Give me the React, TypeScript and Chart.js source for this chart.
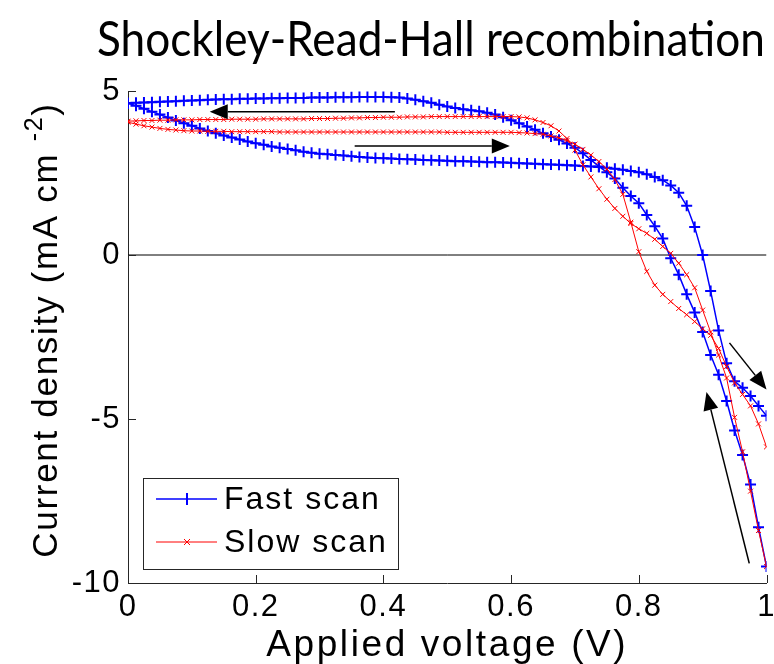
import { useEffect, useRef } from 'react';
import { Chart, registerables } from 'chart.js';
Chart.register(...registerables);

// ---------------- data ----------------
const voltage = [
  0, 0.0125, 0.025, 0.0375, 0.05, 0.0625, 0.075, 0.0875, 0.1, 0.1125, 0.125, 0.1375, 0.15, 0.1625, 0.175, 0.1875,
  0.2, 0.2125, 0.225, 0.2375, 0.25, 0.2625, 0.275, 0.2875, 0.3, 0.3125, 0.325, 0.3375, 0.35, 0.3625, 0.375, 0.3875,
  0.4, 0.4125, 0.425, 0.4375, 0.45, 0.4625, 0.475, 0.4875, 0.5, 0.5125, 0.525, 0.5375, 0.55, 0.5625, 0.575, 0.5875,
  0.6, 0.6125, 0.625, 0.6375, 0.65, 0.6625, 0.675, 0.6875, 0.7, 0.7125, 0.725, 0.7375, 0.75, 0.7625, 0.775, 0.7875,
  0.8, 0.8125, 0.825, 0.8375, 0.85, 0.8625, 0.875, 0.8875, 0.9, 0.9125, 0.925, 0.9375, 0.95, 0.9625, 0.975, 0.9875, 1.0,
];

// Fast scan, forward sweep (lower branch)
const fastForward = [
  4.63, 4.55, 4.46, 4.37, 4.28, 4.19, 4.10, 4.02, 3.94, 3.86, 3.78, 3.71, 3.64, 3.58, 3.52, 3.46,
  3.41, 3.36, 3.31, 3.27, 3.23, 3.19, 3.15, 3.12, 3.09, 3.07, 3.05, 3.03, 3.01, 2.99, 2.97, 2.96,
  2.95, 2.94, 2.93, 2.92, 2.91, 2.90, 2.89, 2.88, 2.87, 2.86, 2.86, 2.85, 2.84, 2.83, 2.83, 2.82,
  2.81, 2.80, 2.79, 2.78, 2.77, 2.76, 2.75, 2.74, 2.73, 2.71, 2.70, 2.68, 2.66, 2.63, 2.60, 2.56,
  2.52, 2.46, 2.38, 2.28, 2.12, 1.90, 1.50, 0.85, 0.0, -1.1, -2.3, -3.3, -3.85, -4.05, -4.3, -4.6, -4.9,
];

// Fast scan, reverse sweep (upper branch)
const fastReverse = [
  4.63, 4.64, 4.65, 4.66, 4.67, 4.68, 4.69, 4.70, 4.71, 4.72, 4.73, 4.74, 4.75, 4.75, 4.76, 4.76,
  4.77, 4.77, 4.78, 4.78, 4.79, 4.79, 4.79, 4.80, 4.80, 4.80, 4.81, 4.81, 4.81, 4.82, 4.82, 4.82,
  4.82, 4.81, 4.80, 4.77, 4.73, 4.69, 4.64, 4.58, 4.53, 4.48, 4.44, 4.41, 4.38, 4.34, 4.28, 4.20,
  4.11, 4.02, 3.92, 3.82, 3.71, 3.61, 3.51, 3.40, 3.27, 3.10, 2.90, 2.70, 2.52, 2.33, 2.05, 1.80,
  1.58, 1.22, 0.88, 0.50, -0.1, -0.6, -1.2, -1.75, -2.35, -3.05, -3.65, -4.45, -5.35, -6.1, -7.0, -8.3, -9.5,
];

// Slow scan, forward sweep (lower branch)
const slowForward = [
  4.05, 3.99, 3.94, 3.90, 3.86, 3.83, 3.81, 3.79, 3.78, 3.78, 3.77, 3.77, 3.77, 3.76, 3.76, 3.76,
  3.76, 3.76, 3.76, 3.75, 3.75, 3.75, 3.75, 3.75, 3.75, 3.75, 3.75, 3.75, 3.75, 3.75, 3.75, 3.75,
  3.75, 3.75, 3.75, 3.75, 3.75, 3.75, 3.75, 3.75, 3.74, 3.74, 3.74, 3.74, 3.74, 3.74, 3.74, 3.74,
  3.74, 3.73, 3.72, 3.70, 3.68, 3.63, 3.57, 3.49, 3.38, 3.22, 3.05, 2.85, 2.62, 2.30, 1.85, 1.00,
  0.10, -0.50, -0.92, -1.20, -1.42, -1.63, -1.82, -2.03, -2.25, -2.45, -2.85, -3.40, -3.90, -4.25, -4.60, -5.15, -5.85,
];

// Slow scan, reverse sweep (upper branch)
const slowReverse = [
  4.08, 4.09, 4.10, 4.10, 4.11, 4.11, 4.12, 4.12, 4.12, 4.13, 4.13, 4.13, 4.13, 4.14, 4.14, 4.14,
  4.14, 4.15, 4.15, 4.15, 4.15, 4.15, 4.15, 4.16, 4.16, 4.16, 4.17, 4.17, 4.18, 4.18, 4.19, 4.19,
  4.20, 4.20, 4.20, 4.21, 4.21, 4.21, 4.22, 4.22, 4.22, 4.22, 4.22, 4.22, 4.22, 4.22, 4.22, 4.22,
  4.22, 4.21, 4.18, 4.12, 4.04, 3.94, 3.78, 3.55, 3.20, 2.75, 2.38, 2.02, 1.70, 1.42, 1.18, 0.96,
  0.80, 0.66, 0.48, 0.26, 0.05, -0.25, -0.60, -1.00, -1.68, -2.35, -3.05, -3.75, -4.95, -6.00, -7.20, -8.40, -9.50,
];

const zeroLineV = [0, 1];
const zeroLineJ = [0, 0];

const xTicks = [0, 0.2, 0.4, 0.6, 0.8, 1];
const yTicks = [-10, -5, 0, 5];

// scan-direction arrows (data coordinates)
const arrowFromV = [0.418, 0.355, 0.942, 0.973];
const arrowFromJ = [4.37, 3.32, -2.68, -9.4];
const arrowToV = [0.128, 0.598, 1.0, 0.906];
const arrowToJ = [4.37, 3.32, -4.1, -4.18];

const legendLabels = ['Fast scan', 'Slow scan'];
const titleText = 'Shockley-Read-Hall recombination';
const xTitleText = 'Applied voltage (V)';
const yTitleMain = 'Current density (mA cm ';
const yTitleSup = '-2';
const yTitleEnd = ')';

// ---------------- styles ----------------
const BLUE = '#0000ff';
const RED = '#ff0000';
const AXIS = '#262626';
const FONT = "'Liberation Sans', Arial, sans-serif";
const TICK_SIZE = 31;
const LABEL_SIZE = 35;
const SPACING = '1.5px';

const pts = (v: number[], j: number[]) => v.map((x, i) => ({ x, y: j[i] }));

const decorPlugin = {
  id: 'decor',
  beforeDraw(chart: any) {
    const ctx = chart.ctx;
    ctx.save();
    ctx.fillStyle = '#fff';
    ctx.fillRect(0, 0, chart.width, chart.height);
    ctx.restore();
    ctx.letterSpacing = SPACING;
  },
  afterDatasetsDraw(chart: any) {
    const { ctx, scales } = chart;
    const x = scales.x;
    const y = scales.y;
    ctx.save();
    ctx.strokeStyle = '#000';
    ctx.fillStyle = '#000';
    ctx.lineWidth = 1.5;
    for (let i = 0; i < arrowFromV.length; i++) {
      const x0 = x.getPixelForValue(arrowFromV[i]);
      const y0 = y.getPixelForValue(arrowFromJ[i]);
      const x1 = x.getPixelForValue(arrowToV[i]);
      const y1 = y.getPixelForValue(arrowToJ[i]);
      const ang = Math.atan2(y1 - y0, x1 - x0);
      const hl = 18;
      const hw = 7.5;
      const bx = x1 - hl * Math.cos(ang);
      const by = y1 - hl * Math.sin(ang);
      ctx.beginPath();
      ctx.moveTo(x0, y0);
      ctx.lineTo(bx, by);
      ctx.stroke();
      ctx.beginPath();
      ctx.moveTo(x1, y1);
      ctx.lineTo(bx + hw * Math.sin(ang), by - hw * Math.cos(ang));
      ctx.lineTo(bx - hw * Math.sin(ang), by + hw * Math.cos(ang));
      ctx.closePath();
      ctx.fill();
    }
    ctx.restore();
  },
  afterDraw(chart: any) {
    const { ctx, chartArea: a, scales } = chart;
    const x = scales.x;
    const y = scales.y;
    ctx.save();
    ctx.letterSpacing = SPACING;
    // inward tick marks
    ctx.strokeStyle = AXIS;
    ctx.lineWidth = 1;
    ctx.beginPath();
    xTicks.forEach((t) => {
      const px = Math.round(x.getPixelForValue(t)) + 0.5;
      ctx.moveTo(px, a.bottom);
      ctx.lineTo(px, a.bottom - 8);
    });
    yTicks.forEach((t) => {
      const py = Math.round(y.getPixelForValue(t)) + 0.5;
      ctx.moveTo(a.left, py);
      ctx.lineTo(a.left + 8, py);
    });
    ctx.stroke();

    // legend box
    const lx = 143.5, ly = 478.5, lw = 255, lh = 91;
    ctx.fillStyle = '#fff';
    ctx.fillRect(lx, ly, lw, lh);
    ctx.strokeStyle = AXIS;
    ctx.lineWidth = 1;
    ctx.strokeRect(lx, ly, lw, lh);
    const rows = [499, 542];
    const colors = [BLUE, RED];
    rows.forEach((ry, i) => {
      ctx.strokeStyle = colors[i];
      ctx.lineWidth = i === 0 ? 1.5 : 1;
      ctx.beginPath();
      ctx.moveTo(156, ry);
      ctx.lineTo(217, ry);
      ctx.stroke();
      ctx.beginPath();
      if (i === 0) {
        ctx.lineWidth = 2;
        ctx.moveTo(187, ry - 6);
        ctx.lineTo(187, ry + 6);
      } else {
        ctx.moveTo(184, ry - 3);
        ctx.lineTo(190, ry + 3);
        ctx.moveTo(184, ry + 3);
        ctx.lineTo(190, ry - 3);
      }
      ctx.stroke();
      ctx.fillStyle = '#000';
      ctx.letterSpacing = '2px';
      ctx.font = `32px ${FONT}`;
      ctx.textAlign = 'left';
      ctx.textBaseline = 'middle';
      ctx.fillText(legendLabels[i], 224, ry + 1);
    });

    // title (slightly condensed)
    ctx.save();
    ctx.fillStyle = '#000';
    ctx.letterSpacing = '0px';
    ctx.font = `48px Lato, 'Open Sans', sans-serif`;
    ctx.textAlign = 'center';
    ctx.textBaseline = 'alphabetic';
    const tw = ctx.measureText(titleText).width;
    const sx = Math.min(1, 668 / tw);
    ctx.translate(431, 56);
    ctx.scale(sx, 1);
    ctx.fillText(titleText, 0, 0);
    ctx.restore();

    // x title
    ctx.fillStyle = '#000';
    ctx.letterSpacing = '2.6px';
    ctx.font = `37px ${FONT}`;
    ctx.textAlign = 'center';
    ctx.textBaseline = 'alphabetic';
    ctx.fillText(xTitleText, (a.left + a.right) / 2, 656);

    // y title (rotated, with superscript)
    ctx.save();
    ctx.translate(57, 330);
    ctx.rotate(-Math.PI / 2);
    ctx.letterSpacing = '1.7px';
    ctx.textAlign = 'left';
    ctx.textBaseline = 'alphabetic';
    ctx.font = `${LABEL_SIZE}px ${FONT}`;
    const w1 = ctx.measureText(yTitleMain).width;
    const w3 = ctx.measureText(yTitleEnd).width;
    ctx.font = `25px ${FONT}`;
    const w2 = ctx.measureText(yTitleSup).width;
    const total = w1 + w2 + w3;
    let cx = -total / 2;
    ctx.font = `${LABEL_SIZE}px ${FONT}`;
    ctx.fillText(yTitleMain, cx, 0);
    cx += w1;
    ctx.font = `25px ${FONT}`;
    ctx.fillText(yTitleSup, cx, -15);
    cx += w2;
    ctx.font = `${LABEL_SIZE}px ${FONT}`;
    ctx.fillText(yTitleEnd, cx, 0);
    ctx.restore();

    ctx.restore();
  },
};

export default function App() {
  const ref = useRef<HTMLCanvasElement | null>(null);
  useEffect(() => {
    if (!ref.current) return;
    const redStyle = {
      showLine: true,
      borderColor: RED,
      borderWidth: 1,
      pointStyle: 'crossRot',
      pointRadius: 3.5,
      pointBorderColor: RED,
      pointBorderWidth: 1,
      pointBackgroundColor: RED,
    };
    const blueStyle = {
      showLine: true,
      borderColor: BLUE,
      borderWidth: 1.5,
      pointStyle: 'cross',
      pointRadius: 5.5,
      pointBorderColor: BLUE,
      pointBorderWidth: 2,
      pointBackgroundColor: BLUE,
    };
    const chart = new Chart(ref.current, {
      type: 'scatter',
      data: {
        datasets: [
          { label: 'Slow scan', data: pts(voltage, slowReverse), ...redStyle },
          { label: 'Slow scan forward', data: pts(voltage, slowForward), ...redStyle },
          { label: 'Fast scan', data: pts(voltage, fastReverse), ...blueStyle },
          { label: 'Fast scan forward', data: pts(voltage, fastForward), ...blueStyle },
          {
            label: 'zero',
            data: pts(zeroLineV, zeroLineJ),
            showLine: true,
            borderColor: '#000',
            borderWidth: 1,
            pointRadius: 0,
          },
        ],
      },
      options: {
        animation: false,
        responsive: true,
        maintainAspectRatio: false,
        layout: { padding: { top: 91, right: 7, bottom: 0, left: 0 } },
        plugins: {
          legend: { display: false },
          tooltip: { enabled: false },
          title: { display: false },
        },
        elements: { line: { tension: 0 } },
        scales: {
          x: {
            type: 'linear',
            min: 0,
            max: 1,
            afterFit: (s: any) => {
              s.height = 81;
              s.paddingLeft = 0;
              s.paddingRight = 0;
            },
            afterBuildTicks: (s: any) => {
              s.ticks = xTicks.map((v) => ({ value: v }));
            },
            ticks: {
              color: '#000',
              font: { family: FONT, size: TICK_SIZE },
              padding: 6,
              maxRotation: 0,
              autoSkip: false,
              callback: (v: any) => String(Number(Number(v).toFixed(1))),
            },
            grid: { display: false, drawTicks: false, tickLength: 0 },
            border: { display: true, color: AXIS, width: 1 },
          },
          y: {
            type: 'linear',
            min: -10,
            max: 5,
            afterFit: (s: any) => {
              s.width = 128;
              s.paddingTop = 0;
              s.paddingBottom = 0;
            },
            afterBuildTicks: (s: any) => {
              s.ticks = yTicks.map((v) => ({ value: v }));
            },
            ticks: {
              color: '#000',
              font: { family: FONT, size: TICK_SIZE },
              padding: 7,
              autoSkip: false,
              callback: (v: any) => String(v),
            },
            grid: { display: false, drawTicks: false, tickLength: 0 },
            border: { display: true, color: AXIS, width: 1 },
          },
        },
      } as any,
      plugins: [decorPlugin],
    });
    return () => chart.destroy();
  }, []);

  return (
    <div style={{ position: 'fixed', left: 0, top: 0, width: 774, height: 664, background: '#fff' }}>
      <canvas ref={ref} />
    </div>
  );
}
